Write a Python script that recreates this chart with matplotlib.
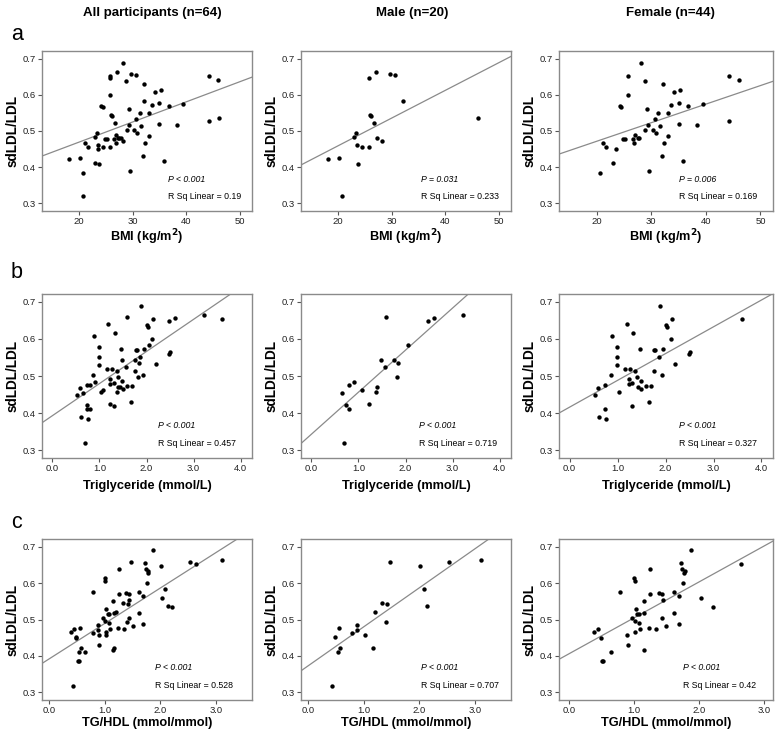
import numpy as np
import matplotlib
matplotlib.use('Agg')
import matplotlib.pyplot as plt

plt.rcParams['font.family'] = ['Liberation Sans', 'DejaVu Sans']

## donnees (hommes / femmes, le panneau "all" = les deux)
# BMI (kg/m2) -> sdLDL/LDL
bmi_male = [18.2, 20.2, 20.7, 23.0, 23.4, 23.5, 23.8, 24.5, 25.8, 25.8, 26.0, 26.1, 26.8, 27.1,
            27.2, 28.3, 29.7, 30.7, 32.2, 46.1]
ratio_bmi_male = [0.422, 0.425, 0.320, 0.484, 0.494, 0.462, 0.410, 0.456, 0.647, 0.457, 0.544,
                  0.542, 0.523, 0.663, 0.480, 0.471, 0.658, 0.656, 0.583, 0.536]
bmi_female = [20.7, 21.1, 21.7, 23.0, 23.5, 24.2, 24.5, 24.8, 25.2, 25.7, 25.7, 26.6, 26.9, 27.0,
              27.5, 27.8, 28.2, 28.8, 28.9, 29.3, 29.4, 29.5, 30.3, 30.7, 30.8, 31.3, 31.6, 32.0,
              32.2, 32.3, 33.0, 33.1, 33.7, 34.2, 35.0, 35.0, 35.3, 35.9, 36.8, 38.3, 39.4, 44.2,
              44.3, 46.0]
ratio_bmi_female = [0.385, 0.467, 0.457, 0.411, 0.450, 0.570, 0.566, 0.477, 0.477, 0.652, 0.600,
                    0.477, 0.466, 0.489, 0.480, 0.481, 0.689, 0.637, 0.503, 0.560, 0.517, 0.390,
                    0.503, 0.533, 0.494, 0.551, 0.515, 0.430, 0.630, 0.468, 0.551, 0.487, 0.573,
                    0.607, 0.519, 0.577, 0.614, 0.418, 0.569, 0.517, 0.575, 0.652, 0.529, 0.640]

# Triglyceride (mmol/L) -> sdLDL/LDL
tg_male = [0.70, 0.65, 0.74, 0.79, 0.80, 0.91, 1.08, 1.22, 1.39, 1.37, 1.48, 1.57, 1.59, 1.76,
           1.81, 1.84, 2.06, 2.47, 2.60, 3.22]
ratio_tg_male = [0.319, 0.455, 0.421, 0.477, 0.412, 0.484, 0.462, 0.425, 0.470, 0.458, 0.543,
                 0.524, 0.659, 0.543, 0.496, 0.536, 0.583, 0.648, 0.657, 0.664]
tg_female = [1.88, 2.14, 3.60, 1.19, 2.01, 2.03, 1.32, 0.88, 2.12, 0.99, 1.46, 1.94, 1.77, 1.79,
             2.50, 2.48, 0.99, 1.86, 2.20, 0.98, 1.16, 1.26, 1.37, 1.75, 0.87, 1.92, 1.40, 1.23,
             1.48, 1.31, 0.74, 1.23, 1.59, 1.69, 1.43, 1.49, 1.04, 0.52, 0.59, 1.66, 1.30, 0.74,
             0.61, 0.76]
ratio_tg_female = [0.689, 0.654, 0.654, 0.640, 0.637, 0.631, 0.616, 0.607, 0.600, 0.577, 0.574,
                   0.574, 0.570, 0.570, 0.566, 0.560, 0.552, 0.552, 0.533, 0.529, 0.518, 0.518,
                   0.514, 0.514, 0.504, 0.503, 0.496, 0.491, 0.486, 0.480, 0.477, 0.478, 0.474,
                   0.474, 0.470, 0.466, 0.458, 0.450, 0.467, 0.431, 0.419, 0.412, 0.390, 0.385]

# TG/HDL (mmol/mmol) -> sdLDL/LDL
tghdl_male = [0.43, 0.48, 0.55, 0.53, 0.57, 0.78, 0.87, 0.87, 1.03, 1.16, 1.21, 1.33, 1.41, 1.40,
              1.47, 2.01, 2.09, 2.14, 2.53, 3.11]
ratio_tghdl_male = [0.318, 0.453, 0.477, 0.411, 0.421, 0.462, 0.484, 0.471, 0.457, 0.422, 0.521,
                    0.544, 0.542, 0.494, 0.659, 0.648, 0.584, 0.537, 0.657, 0.664]
tghdl_female = [0.39, 0.45, 0.49, 0.51, 0.53, 0.65, 0.78, 0.89, 0.90, 0.97, 1.00, 1.01, 1.01,
                1.02, 1.03, 1.05, 1.07, 1.07, 1.09, 1.15, 1.15, 1.16, 1.23, 1.25, 1.25, 1.34,
                1.38, 1.43, 1.44, 1.43, 1.50, 1.62, 1.62, 1.69, 1.69, 1.72, 1.74, 1.77, 1.76,
                1.78, 1.87, 2.03, 2.21, 2.64]
ratio_tghdl_female = [0.466, 0.475, 0.448, 0.385, 0.387, 0.411, 0.576, 0.457, 0.430, 0.504, 0.615,
                      0.607, 0.495, 0.466, 0.528, 0.515, 0.491, 0.514, 0.475, 0.550, 0.417, 0.518,
                      0.477, 0.570, 0.640, 0.475, 0.574, 0.570, 0.553, 0.503, 0.481, 0.517, 0.575,
                      0.565, 0.487, 0.654, 0.638, 0.629, 0.600, 0.633, 0.690, 0.559, 0.535, 0.652]

# droites de regression (all, male, female)
fit_bmi_icpt = [0.358, 0.306, 0.369]
fit_bmi_slope = [0.00556, 0.00765, 0.00513]
fit_tg_icpt = [0.393, 0.343, 0.416]
fit_tg_slope = [0.0866, 0.1134, 0.0722]
fit_tghdl_icpt = [0.392, 0.373, 0.406]
fit_tghdl_slope = [0.0972, 0.107, 0.0985]

p_bmi = ['P < 0.001', 'P = 0.031', 'P = 0.006']
p_tg = ['P < 0.001', 'P < 0.001', 'P < 0.001']
p_tghdl = ['P < 0.001', 'P < 0.001', 'P < 0.001']
r2_bmi = ['0.19', '0.233', '0.169']
r2_tg = ['0.457', '0.719', '0.327']
r2_tghdl = ['0.528', '0.707', '0.42']

col_titles = ['All participants (n=64)', 'Male (n=20)', 'Female (n=44)']
row_letters = ['a', 'b', 'c']
xlabels = [r'BMI (kg/m$^{\mathbf{2}}$)', 'Triglyceride (mmol/L)', 'TG/HDL (mmol/mmol)']


## mise en page (pixels de l'image d'origine)
W, H = 778, 738
col_left = [42, 301, 559]
col_width = [210, 210, 214]
row_top = [51, 294, 539]
row_height = [160, 164, 161]
xlabel_off = [16, 22, 17]
letter_base = [40, 278, 528]
title_x = [152, 412, 670]

grey = '#8a8a8a'

rows = [
    (bmi_male, ratio_bmi_male, bmi_female, ratio_bmi_female, fit_bmi_icpt, fit_bmi_slope, p_bmi, r2_bmi),
    (tg_male, ratio_tg_male, tg_female, ratio_tg_female, fit_tg_icpt, fit_tg_slope, p_tg, r2_tg),
    (tghdl_male, ratio_tghdl_male, tghdl_female, ratio_tghdl_female, fit_tghdl_icpt, fit_tghdl_slope, p_tghdl, r2_tghdl),
]
xlims = [[(13.1, 52.3)] * 3,
         [(-0.22, 4.24)] * 3,
         [(-0.13, 3.65), (-0.13, 3.65), (-0.155, 3.14)]]
xticks = [[20, 30, 40, 50], [0, 1, 2, 3, 4], [0, 1, 2, 3]]
xticklabels = [['20', '30', '40', '50'], ['0.0', '1.0', '2.0', '3.0', '4.0'], ['0.0', '1.0', '2.0', '3.0']]
ylim = (0.279, 0.721)
text_x = [[0.60, 0.57, 0.56], [0.55, 0.56, 0.56], [0.54, 0.57, 0.58]]

fig = plt.figure(figsize=(W / 100, H / 100), dpi=100)

for r, (xm, ym, xf, yf, icpt, slope, ptxt, r2txt) in enumerate(rows):
    data = [(np.array(xm + xf), np.array(ym + yf)), (np.array(xm), np.array(ym)), (np.array(xf), np.array(yf))]
    for c in range(3):
        l = col_left[c] / W
        b = 1 - (row_top[r] + row_height[r]) / H
        ax = fig.add_axes([l, b, col_width[c] / W, row_height[r] / H])
        x, y = data[c]
        ax.scatter(x, y, s=10, color='black', linewidths=0, zorder=3)
        xs = np.array(xlims[r][c])
        ax.plot(xs, icpt[c] + slope[c] * xs, color=grey, lw=0.9, zorder=2)
        ax.set_xlim(xlims[r][c])
        ax.set_ylim(ylim)
        ax.set_xticks(xticks[r])
        ax.set_xticklabels(xticklabels[r])
        ax.set_yticks([0.3, 0.4, 0.5, 0.6, 0.7])
        ax.set_yticklabels(['0.3', '0.4', '0.5', '0.6', '0.7'])
        ax.tick_params(length=3, width=0.8, color='#555555', labelsize=6.8, pad=1.2, labelcolor='#222222')
        for sp in ax.spines.values():
            sp.set_color(grey)
            sp.set_linewidth(1.0)
        ax.set_ylabel('sdLDL/LDL', fontsize=9.8, fontweight='bold')
        ax.yaxis.set_label_coords(-22 / col_width[c], 0.5)
        ax.set_xlabel(xlabels[r], fontsize=9.2, fontweight='bold')
        ax.xaxis.set_label_coords(0.5, -xlabel_off[r] / row_height[r])
        ax.text(text_x[r][c], 0.2, ptxt[c], transform=ax.transAxes, fontsize=6.3,
                style='italic', va='center', ha='left')
        ax.text(text_x[r][c], 0.09, 'R Sq Linear = ' + r2txt[c], transform=ax.transAxes,
                fontsize=6.3, va='center', ha='left')

for c in range(3):
    fig.text(title_x[c] / W, 1 - 13 / H, col_titles[c], ha='center', va='center',
             fontsize=9.5, fontweight='bold')
for r in range(3):
    fig.text(11 / W, 1 - letter_base[r] / H, row_letters[r], ha='left', va='baseline', fontsize=15.5)

fig.savefig('out.png', dpi=100)
